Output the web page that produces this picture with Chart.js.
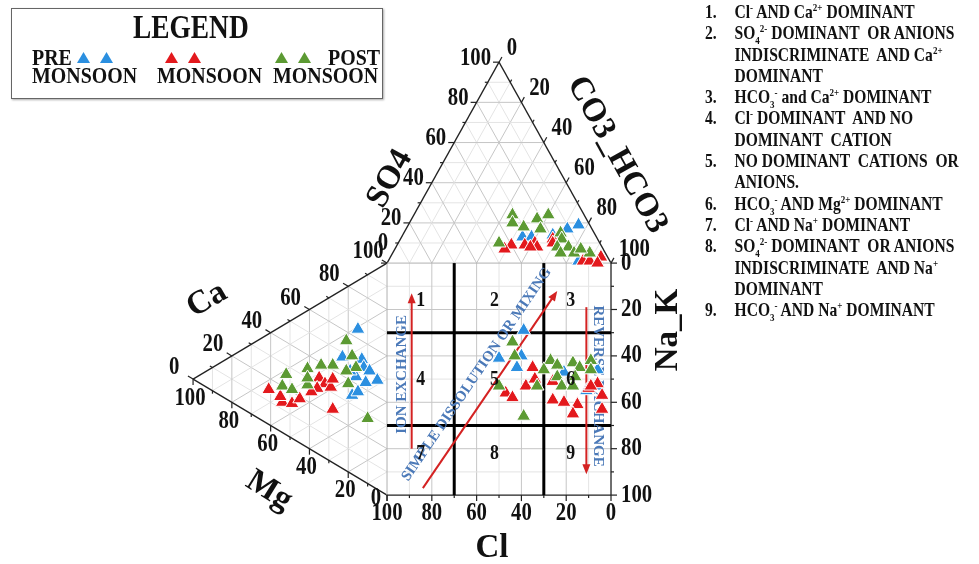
<!DOCTYPE html>
<html>
<head>
<meta charset="utf-8">
<script src="https://cdn.jsdelivr.net/npm/chart.js@4.4.1/dist/chart.umd.min.js"></script>
<style>
  html, body { margin: 0; padding: 0; background: #fff; }
  #wrap { position: relative; width: 979px; height: 564px; overflow: hidden;
          font-family: "Liberation Serif", "Times New Roman", serif; font-weight: bold; color: #111; }
  #chartBox { position: absolute; left: 0; top: 0; width: 979px; height: 564px; }
  #legendBox { position: absolute; left: 11px; top: 8px; width: 370px; height: 89px;
               border: 1px solid #666; box-shadow: 1px 1px 2px #aaa; background: #fff; }
  .lg { position: absolute; white-space: nowrap; transform-origin: left top; transform: scaleX(0.83);
        font-size: 24px; line-height: 22px; }
  .tri { position: absolute; width: 13px; height: 11px; clip-path: polygon(50% 0, 100% 100%, 0 100%); }
  #notes { position: absolute; left: 705px; top: 1px; transform-origin: left top; transform: scaleX(0.82);
           font-size: 19px; line-height: 21.3px; white-space: nowrap; }
  .note { position: relative; padding-left: 36px; }
  .note .n { position: absolute; left: 0; }
  sup, sub { font-size: 11px; line-height: 0; }
</style>
</head>
<body>
<div id="wrap">
  <div id="chartBox"><canvas id="durov"></canvas></div>
  <div id="legendBox"></div>
  <div id="notes"></div>
</div>
<script>
const S3 = Math.sqrt(3) / 2;

// anion triangle points: [SO4 %, CO3_HCO3 %]  (Cl = rest)
const preAnions = [[13, 54], [13, 58], [19, 76], [17, 72], [14, 67], [1, 85]];
const monAnions = [[9, 51], [9, 57], [10, 61], [8, 63], [7, 49], [8, 60], [12, 68], [10, 69],
                   [1, 87], [1, 90], [3, 94], [0, 94]];
const postAnions = [[24, 44], [20, 46], [18, 52], [22, 56], [24, 60], [17, 60], [10, 45], [15, 70],
                    [12, 72], [8, 72], [8, 77], [5, 81], [5, 75], [5, 88], [7, 83]];

// cation triangle points: [Mg %, Ca %]  (Na_K = rest)
const preCations = [[15, 64], [23, 48], [13, 52], [12, 49], [9, 49], [5, 47], [16, 43], [11, 43],
                    [18, 34], [15, 37], [19, 44]];
const monCations = [[61, 15], [54, 13], [49, 15], [45, 19], [35, 33], [32, 32], [29, 32], [36, 28],
                    [39, 25], [28, 23], [55, 15], [28, 36]];
const postCations = [[21, 56], [18, 51], [28, 42], [34, 39], [41, 34], [52, 26], [16, 47], [21, 43],
                     [54, 20], [49, 21], [41, 27], [20, 38], [41, 30], [10, 28]];

// central square points: [Cl %, Na_K %]
const preSquare = [[39, 29], [50, 41], [42, 45], [40, 40], [21, 47], [6, 46], [11, 55], [6, 53]];
const monSquare = [[35, 45], [47, 56], [44, 58], [38, 53], [34, 50], [26, 51], [26, 59], [21, 60],
                   [15, 61], [17, 65], [10, 54], [6, 52], [4, 57], [4, 63], [9, 53]];
const postSquare = [[44, 34], [43, 40], [50, 53], [33, 53], [39, 66], [27, 42], [24, 44], [17, 43],
                    [14, 45], [24, 49], [22, 53], [17, 53], [16, 49], [9, 42], [9, 46], [30, 46]];

const seasons = ['PRE MONSOON', 'MONSOON', 'POST MONSOON'];
const seasonColors = ['#2b8fe0', '#e3191d', '#5c9a33'];

const tickVals = [0, 20, 40, 60, 80, 100];
const zoneBounds = [30, 70];                 // thick lines, Cl and Na_K
const zoneNumbers = ['1', '2', '3', '4', '5', '6', '7', '8', '9'];
const zoneCl = [85, 52, 18];
const zoneNaK = [16, 50, 82];

// arrows in the square: [Cl, Na_K] start -> end
const ionExchangeArrow = [[89, 80], [89, 13]];
const reverseArrow = [[11, 19], [11, 91]];
const mixingArrow = [[84, 97], [24, 12]];

const zoneNotes = [
  'Cl<sup>-</sup> AND Ca<sup>2+</sup> DOMINANT',
  'SO<sub>4</sub><sup>2-</sup> DOMINANT&nbsp; OR ANIONS<br>INDISCRIMINATE&nbsp; AND Ca<sup>2+</sup><br>DOMINANT',
  'HCO<sub>3</sub><sup>-</sup> and Ca<sup>2+</sup> DOMINANT',
  'Cl<sup>-</sup> DOMINANT&nbsp; AND NO<br>DOMINANT&nbsp; CATION',
  'NO DOMINANT&nbsp; CATIONS&nbsp; OR<br>ANIONS.',
  'HCO<sub>3</sub><sup>-</sup> AND Mg<sup>2+</sup> DOMINANT',
  'Cl<sup>-</sup> AND Na<sup>+</sup> DOMINANT',
  'SO<sub>4</sub><sup>2-</sup> DOMINANT&nbsp; OR ANIONS<br>INDISCRIMINATE&nbsp; AND Na<sup>+</sup><br>DOMINANT',
  'HCO<sub>3</sub><sup>-</sup> AND Na<sup>+</sup> DOMINANT'
];

// ternary / square -> chart units
const anionXY = ([so4, hco3]) => ({ x: hco3 + so4 / 2, y: 100 + S3 * so4 });
const cationXY = ([mg, ca]) => ({ x: -S3 * mg, y: ca + mg / 2 });
const squareXY = ([cl, nak]) => ({ x: 100 - cl, y: 100 - nak });

// legend box
const lb = document.getElementById('legendBox');
lb.innerHTML =
  '<div class="lg" style="left:121px;top:3px;font-size:33px;line-height:30px">LEGEND</div>' +
  '<div class="lg" style="left:20px;top:37px">PRE</div>' +
  '<div class="lg" style="left:316px;top:37px">POST</div>' +
  '<div class="lg" style="left:20px;top:55px">MONSOON</div>' +
  '<div class="lg" style="left:145px;top:55px">MONSOON</div>' +
  '<div class="lg" style="left:261px;top:55px">MONSOON</div>';
[[65, 88], [153, 176], [263, 286]].forEach((xs, i) => {
  xs.forEach(l => {
    const t = document.createElement('div');
    t.className = 'tri';
    t.style.left = l + 'px';
    t.style.top = '43px';
    t.style.background = seasonColors[i];
    lb.appendChild(t);
  });
});

// notes on the right
document.getElementById('notes').innerHTML = zoneNotes
  .map((s, i) => '<div class="note"><span class="n">' + (i + 1) + '.</span>' + s + '</div>')
  .join('');

const durovFrame = {
  id: 'durovFrame',
  beforeDatasetsDraw(chart) {
    const { ctx } = chart;
    const xs = chart.scales.x, ys = chart.scales.y;
    const px = p => [xs.getPixelForValue(p.x), ys.getPixelForValue(p.y)];
    const line = (a, b, color, w) => {
      const p = px(a), q = px(b);
      ctx.beginPath();
      ctx.moveTo(p[0], p[1]);
      ctx.lineTo(q[0], q[1]);
      ctx.strokeStyle = color;
      ctx.lineWidth = w;
      ctx.stroke();
    };
    ctx.save();
    // grids
    for (let k = 10; k < 100; k += 10) {
      const c = k % 20 === 0 ? '#c6c6c6' : '#e4e4e4';
      line(anionXY([k, 0]), anionXY([k, 100 - k]), c, 1);
      line(anionXY([0, k]), anionXY([100 - k, k]), c, 1);
      line(anionXY([0, 100 - k]), anionXY([100 - k, 0]), c, 1);
      line(cationXY([k, 0]), cationXY([k, 100 - k]), c, 1);
      line(cationXY([0, k]), cationXY([100 - k, k]), c, 1);
      line(cationXY([0, 100 - k]), cationXY([100 - k, 0]), c, 1);
      line(squareXY([k, 0]), squareXY([k, 100]), c, 1);
      line(squareXY([0, k]), squareXY([100, k]), c, 1);
    }
    // outlines
    line(anionXY([0, 0]), anionXY([100, 0]), '#222', 1.3);
    line(anionXY([100, 0]), anionXY([0, 100]), '#222', 1.3);
    line(anionXY([0, 0]), anionXY([0, 100]), '#b0b0b0', 1);
    line(cationXY([100, 0]), cationXY([0, 100]), '#222', 1.3);
    line(cationXY([100, 0]), cationXY([0, 0]), '#222', 1.3);
    line(squareXY([100, 0]), squareXY([100, 100]), '#b0b0b0', 1);
    line(squareXY([100, 100]), squareXY([0, 100]), '#222', 1.3);
    line(squareXY([0, 0]), squareXY([0, 100]), '#222', 1.3);

    // ticks
    const tick = (p, d, len) => {
      const a = px(p), b = px({ x: p.x + d.x, y: p.y + d.y });
      const L = Math.hypot(b[0] - a[0], b[1] - a[1]);
      const u = [(b[0] - a[0]) / L, (b[1] - a[1]) / L];
      ctx.beginPath();
      ctx.moveTo(a[0], a[1]);
      ctx.lineTo(a[0] + u[0] * len, a[1] + u[1] * len);
      ctx.strokeStyle = '#222';
      ctx.lineWidth = 1.2;
      ctx.stroke();
    };
    for (let k = 0; k <= 100; k += 10) {
      const len = k % 20 === 0 ? 6 : 3;
      tick(anionXY([k, 0]), { x: -1, y: 0 }, len);
      tick(anionXY([100 - k, k]), { x: 0.5, y: S3 }, len);
      tick(cationXY([100 - k, k]), { x: -S3, y: 0.5 }, len);
      tick(cationXY([k, 0]), { x: 0, y: -1 }, len);
      tick(squareXY([k, 100]), { x: 0, y: -1 }, len);
      tick(squareXY([0, k]), { x: 1, y: 0 }, len);
    }

    // zone boundaries
    zoneBounds.forEach(b => {
      line(squareXY([b, 0]), squareXY([b, 100]), '#000', 3);
      line(squareXY([0, b]), squareXY([100, b]), '#000', 3);
    });

    // arrows
    const arrow = (pair) => {
      const a = px(squareXY(pair[0])), b = px(squareXY(pair[1]));
      const ang = Math.atan2(b[1] - a[1], b[0] - a[0]);
      ctx.strokeStyle = '#d42222';
      ctx.fillStyle = '#d42222';
      ctx.lineWidth = 2;
      ctx.beginPath();
      ctx.moveTo(a[0], a[1]);
      ctx.lineTo(b[0] - Math.cos(ang) * 6, b[1] - Math.sin(ang) * 6);
      ctx.stroke();
      ctx.beginPath();
      ctx.moveTo(b[0], b[1]);
      ctx.lineTo(b[0] - Math.cos(ang) * 10 + Math.sin(ang) * 4, b[1] - Math.sin(ang) * 10 - Math.cos(ang) * 4);
      ctx.lineTo(b[0] - Math.cos(ang) * 10 - Math.sin(ang) * 4, b[1] - Math.sin(ang) * 10 + Math.cos(ang) * 4);
      ctx.closePath();
      ctx.fill();
      return ang;
    };
    arrow(ionExchangeArrow);
    arrow(reverseArrow);
    const mixAng = arrow(mixingArrow);

    // process labels
    const blue = (s, p, rot) => {
      const q = px(squareXY(p));
      ctx.save();
      ctx.translate(q[0], q[1]);
      ctx.rotate(rot);
      ctx.font = 'bold 15px "Liberation Serif"';
      ctx.fillStyle = '#4b79b8';
      ctx.textAlign = 'center';
      ctx.textBaseline = 'middle';
      ctx.fillText(s, 0, 0);
      ctx.restore();
    };
    blue('ION EXCHANGE', [93.3, 48], -Math.PI / 2);
    blue('REVERSE EXCHANGE', [5.8, 53], Math.PI / 2);
    blue('SIMPLE DISSOLUTION OR MIXING', [60, 48], mixAng);
    ctx.restore();
  },
  afterDatasetsDraw(chart) {
    const { ctx } = chart;
    const xs = chart.scales.x, ys = chart.scales.y;
    const px = p => [xs.getPixelForValue(p.x), ys.getPixelForValue(p.y)];
    const txt = (s, x, y, o) => {
      ctx.save();
      ctx.translate(x, y);
      if (o.rot) ctx.rotate(o.rot * Math.PI / 180);
      ctx.scale(o.sx || 1, 1);
      ctx.font = o.font;
      ctx.fillStyle = '#111';
      ctx.textAlign = o.align || 'center';
      ctx.textBaseline = 'middle';
      ctx.fillText(s, 0, 0);
      ctx.restore();
    };
    const tf = 'bold 25px "Liberation Serif"';
    const sx = 0.83;
    const unit = (p, d) => {
      const a = px(p), b = px({ x: p.x + d.x, y: p.y + d.y });
      const L = Math.hypot(b[0] - a[0], b[1] - a[1]);
      return [(b[0] - a[0]) / L, (b[1] - a[1]) / L];
    };

    // zone numbers
    zoneNumbers.forEach((n, i) => {
      const q = px(squareXY([zoneCl[i % 3], zoneNaK[Math.floor(i / 3)]]));
      txt(n, q[0], q[1], { font: 'bold 21px "Liberation Serif"', sx: 0.85 });
    });

    tickVals.forEach(v => {
      const s = String(v);
      // SO4
      let p = px(anionXY([v, 0]));
      if (v === 0) txt(s, p[0] - 4, p[1] - 20, { font: tf, sx });
      else txt(s, p[0] - 8, p[1] - 4, { font: tf, sx, align: 'right' });
      // CO3_HCO3
      let d = anionXY([100 - v, v]);
      let u = unit(d, { x: 0.5, y: S3 });
      p = px(d);
      txt(s, p[0] + u[0] * 16, p[1] + u[1] * 16, { font: tf, sx, align: 'left' });
      // Ca
      d = cationXY([100 - v, v]);
      u = unit(d, { x: -S3, y: 0.5 });
      p = px(d);
      txt(s, p[0] + u[0] * 22, p[1] + u[1] * 22, { font: tf, sx });
      // Mg
      p = px(cationXY([v, 0]));
      if (v === 0) txt(s, p[0] - 11, p[1] + 3, { font: tf, sx });
      else txt(s, p[0] - 3, p[1] + 19, { font: tf, sx });
      // Cl
      p = px(squareXY([v, 100]));
      txt(s, p[0], p[1] + 18, { font: tf, sx });
      // Na_K
      p = px(squareXY([0, v]));
      txt(s, p[0] + 10, p[1], { font: tf, sx, align: 'left' });
    });

    // axis titles
    const tt = 'bold 33px "Liberation Serif"';
    txt('SO4', 390, 179, { font: tt, rot: -61 });
    txt('CO3_HCO3', 617, 155, { font: tt, rot: 61 });
    txt('Ca', 207, 300, { font: tt, rot: -30 });
    txt('Mg', 269, 491, { font: tt, rot: 32 });
    txt('Na_K', 668, 330, { font: tt, rot: -90 });
    txt('Cl', 492, 548, { font: tt });
  }
};

const groups = [
  [preAnions, preCations, preSquare],
  [monAnions, monCations, monSquare],
  [postAnions, postCations, postSquare]
];

new Chart(document.getElementById('durov'), {
  type: 'scatter',
  data: {
    datasets: groups.map((g, i) => ({
      label: seasons[i],
      data: [...g[0].map(anionXY), ...g[1].map(cationXY), ...g[2].map(squareXY)],
      pointStyle: 'triangle',
      pointRadius: 8,
      pointHoverRadius: 8,
      backgroundColor: seasonColors[i],
      borderColor: '#ffffff',
      borderWidth: 1,
      order: 2 - i,
      clip: false
    }))
  },
  options: {
    responsive: true,
    maintainAspectRatio: false,
    animation: false,
    events: [],
    layout: { padding: 0, autoPadding: false },
    scales: {
      x: { type: 'linear', min: -172.8, max: 264.3, display: false },
      y: { type: 'linear', min: -29.7, max: 213.4, display: false }
    },
    plugins: {
      legend: { display: false },
      tooltip: { enabled: false }
    }
  },
  plugins: [durovFrame]
});
</script>
</body>
</html>
